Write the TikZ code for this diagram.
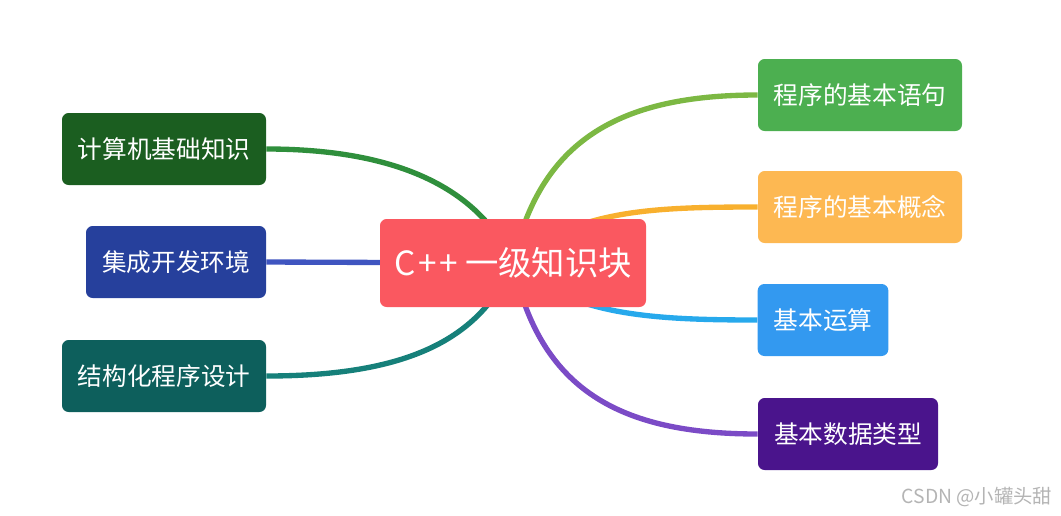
\documentclass[tikz,border=0pt]{standalone}
\usepackage{fontspec}
\setmainfont{Noto Sans CJK SC}
\usetikzlibrary{backgrounds}

\definecolor{rootred}{HTML}{FA5860}
\definecolor{jichubox}{HTML}{1B5E20}
\definecolor{jichuline}{HTML}{2F8F3C}
\definecolor{idebox}{HTML}{26409C}
\definecolor{ideline}{HTML}{3F55C0}
\definecolor{jiegoubox}{HTML}{0D5F5C}
\definecolor{jiegouline}{HTML}{16807A}
\definecolor{yujubox}{HTML}{4CAF50}
\definecolor{yujuline}{HTML}{7CB843}
\definecolor{gainianbox}{HTML}{FDB852}
\definecolor{gainianline}{HTML}{F8B02E}
\definecolor{yunsuanbox}{HTML}{3399F0}
\definecolor{yunsuanline}{HTML}{27A9EC}
\definecolor{leixingbox}{HTML}{4A148C}
\definecolor{leixingline}{HTML}{7B4BC6}
\definecolor{markgray}{HTML}{B4B4B4}

\begin{document}
\begin{tikzpicture}[x=0.75pt,y=-0.75pt,
  topic/.style={rounded corners=5pt, text=white, inner sep=0pt,
    minimum height=54pt, font=\fontsize{18.5}{22}\selectfont},
  branch/.style={line width=4pt}]
\useasboundingbox (0,0) rectangle (1061,515);

% centre
\node[topic, fill=rootred, minimum width=199.5pt, minimum height=66pt,
  font=\fontsize{25}{30}\selectfont] (root) at (513,263) {C\kern2pt+\kern2pt+ 一级知识块};

% left side
\node[topic, fill=jichubox, minimum width=153pt] (jichu) at (164,149) {计算机基础知识};
\node[topic, fill=idebox, minimum width=135pt] (ide) at (176,262) {集成开发环境};
\node[topic, fill=jiegoubox, minimum width=153pt] (jiegou) at (164,376) {结构化程序设计};

% right side
\node[topic, fill=yujubox, minimum width=153pt] (yuju) at (860,95) {程序的基本语句};
\node[topic, fill=gainianbox, minimum width=153pt] (gainian) at (860,207) {程序的基本概念};
\node[topic, fill=yunsuanbox, minimum width=98pt] (yunsuan) at (823,320) {基本运算};
\node[topic, fill=leixingbox, minimum width=135pt] (leixing) at (848,434) {基本数据类型};

\node[anchor=east, text=markgray, font=\fontsize{14.5}{17}\selectfont] (mark) at (1057,497) {CSDN @小罐头甜};

\begin{scope}[on background layer]
\draw[branch, jichuline] (root.center) .. controls +(-33,-73) and +(134,0) .. (jichu.east);
\draw[branch, ideline] (root.center) -- (ide.east);
\draw[branch, jiegouline] (root.center) .. controls +(-33,77) and +(140,0) .. (jiegou.east);
\draw[branch, yujuline] (root.center) .. controls +(27,-123) and +(-138,0) .. (yuju.west);
\draw[branch, gainianline] (root.center) .. controls +(62,-53) and +(-108,0) .. (gainian.west);
\draw[branch, yunsuanline] (root.center) .. controls +(57,52) and +(-108,0) .. (yunsuan.west);
\draw[branch, leixingline] (root.center) .. controls +(27,127) and +(-138,0) .. (leixing.west);
\end{scope}
\end{tikzpicture}
\end{document}
